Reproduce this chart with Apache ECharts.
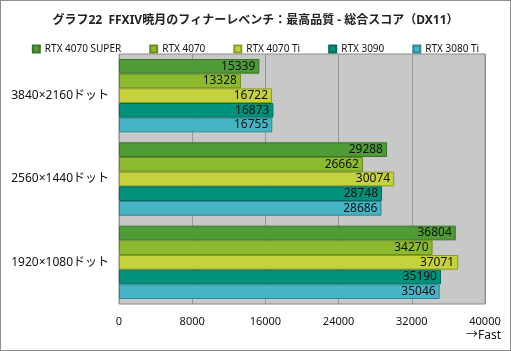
<!DOCTYPE html>
<html><head><meta charset="utf-8">
<script src="https://cdn.jsdelivr.net/npm/echarts@6/dist/echarts.min.js"></script>
<style>html,body{margin:0;padding:0;background:#fff}#c{width:511px;height:351px;box-sizing:border-box;border:1px solid #8c8c8c}</style>
</head><body><div id="c"></div>
<script>
const categories = ['3840×2160ドット','2560×1440ドット','1920×1080ドット'];
const seriesNames = ['RTX 4070 SUPER','RTX 4070','RTX 4070 Ti','RTX 3090','RTX 3080 Ti'];
const rtx4070super = [15339, 29288, 36804];
const rtx4070 = [13328, 26662, 34270];
const rtx4070ti = [16722, 30074, 37071];
const rtx3090 = [16873, 28748, 35190];
const rtx3080ti = [16755, 28686, 35046];
const xTicks = [0, 8000, 16000, 24000, 32000, 40000];

const values = [rtx4070super, rtx4070, rtx4070ti, rtx3090, rtx3080ti];
const colors = ['#4f9b35','#8cba2f','#c4d23b','#00917b','#45b4c5'];
const borders = ['#3a7426','#6a8d22','#8f9a25','#006b5a','#2f8592'];
const font = '"Noto Sans", "Noto Sans CJK JP", sans-serif';

const chart = echarts.init(document.getElementById('c'), null, {renderer:'canvas'});
chart.setOption({
  animation:false,
  backgroundColor:'#fff',
  title:{text:'グラフ22  FFXIV暁月のフィナーレベンチ：最高品質 - 総合スコア（DX11）',left:'center',top:9,
    textStyle:{fontFamily:font,fontSize:12,fontWeight:'bold',color:'#222'}},
  legend:{top:38,left:'center',itemWidth:7,itemHeight:7,itemGap:28,icon:'rect',
    textStyle:{fontFamily:font,fontSize:10,color:'#111'},data:seriesNames},
  grid:{left:118,right:25,top:53,bottom:46,backgroundColor:'#c8c8c8',show:true,borderColor:'#8a8a8a',borderWidth:1},
  xAxis:{type:'value',min:0,max:40000,interval:8000,
    axisLine:{show:false},axisTick:{show:false},
    splitLine:{lineStyle:{color:'#969696',width:1}},
    axisLabel:{fontFamily:font,fontSize:11,color:'#111',margin:12,
      formatter:v=>xTicks.includes(v)?String(v):''}},
  yAxis:{type:'category',data:categories,inverse:true,
    axisLine:{show:false},axisTick:{show:false},
    axisLabel:{fontFamily:font,fontSize:12,color:'#111',margin:10}},
  graphic:[{type:'text',right:9,bottom:8,style:{text:'→Fast',fontFamily:font,fontSize:12,fill:'#111'}}],
  series: seriesNames.map((n,i)=>({
    name:n,type:'bar',data:values[i],barGap:'0%',barCategoryGap:'12%',
    itemStyle:{color:colors[i],borderColor:borders[i],borderWidth:1},
    label:{show:true,position:'insideRight',distance:4,fontFamily:font,fontSize:12,color:'#111'}
  }))
});
</script></body></html>
